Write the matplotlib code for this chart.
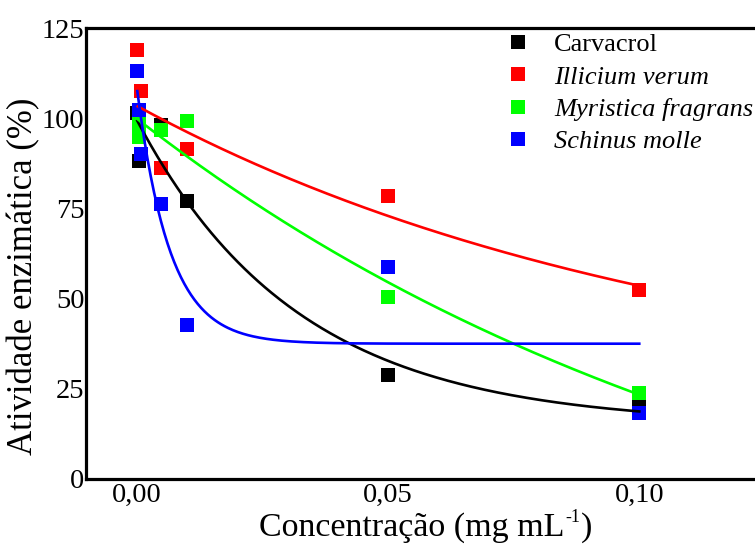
import numpy as np
import matplotlib
matplotlib.use("Agg")
import matplotlib.pyplot as plt

# dados (concentracao em mg/mL, atividade em %)
nomes = ["Carvacrol", "Illicium verum", "Myristica fragrans", "Schinus molle"]
cores = ["#000000", "#ff0000", "#00ff00", "#0000ff"]

x_carvacrol = [0.0001, 0.0005, 0.005, 0.01, 0.05, 0.1]
y_carvacrol = [101.5, 88.1, 98.2, 77.0, 28.8, 20.8]

x_illicium = [0.0001, 0.001, 0.005, 0.01, 0.05, 0.1]
y_illicium = [118.9, 107.5, 86.2, 91.5, 78.4, 52.4]

x_myristica = [0.0005, 0.0005, 0.005, 0.01, 0.05, 0.1]
y_myristica = [98.7, 94.8, 96.7, 99.2, 50.4, 23.8]

x_schinus = [0.0001, 0.0005, 0.001, 0.005, 0.01, 0.05, 0.1]
y_schinus = [113.2, 102.3, 90.1, 76.2, 42.7, 58.8, 18.3]

# ajuste exponencial y = y0 + A*exp(-x/t)  (parametros estimados do grafico)
y0_ajuste = [15.0, 20.0, -45.0, 37.5]
A_ajuste = [84.8, 83.5, 145.0, 72.2]
t_ajuste = [0.032, 0.1097, 0.133, 0.0065]
x_ini_ajuste = [0.0002, 0.0003, 0.0003, 0.0002]
x_fim_ajuste = 0.1

yticks = [0, 25, 50, 75, 100, 125]
xticks = [0.0, 0.05, 0.10]
xtick_labels = ["0,00", "0,05", "0,10"]

plt.rcParams["font.family"] = ["Liberation Serif", "DejaVu Serif"]

fig = plt.figure(figsize=(7.55, 5.44), dpi=100)
W, H = 755, 544
ax = fig.add_axes([86 / W, (H - 479) / H, (765 - 86) / W, (479 - 28) / H])

series = [(x_carvacrol, y_carvacrol), (x_illicium, y_illicium),
          (x_myristica, y_myristica), (x_schinus, y_schinus)]

for (xs, ys), cor, nome in zip(series, cores, nomes):
    ax.plot(xs, ys, "s", color=cor, markersize=10, markeredgewidth=0,
            label=nome, zorder=2)

for i, cor in enumerate(cores):
    xx = np.linspace(x_ini_ajuste[i], x_fim_ajuste, 300)
    yy = y0_ajuste[i] + A_ajuste[i] * np.exp(-xx / t_ajuste[i])
    ax.plot(xx, yy, "-", color=cor, linewidth=1.9, zorder=3)

ax.set_xlim(-0.01, 0.125)
ax.set_ylim(0, 125)
ax.set_xticks(xticks)
ax.set_xticklabels(xtick_labels)
ax.set_yticks(yticks)
ax.tick_params(length=0, labelsize=20.5, pad=3)
ax.tick_params(axis="y", pad=1)

for lado in ["left", "bottom", "top"]:
    ax.spines[lado].set_linewidth(2.3)
ax.spines["right"].set_visible(False)

# rotulo do eixo x com expoente pequeno (hifen, como no original)
fig.text(425 / W, 1 - 528 / H, "Concentração (mg mL", fontsize=24.5,
         ha="right", va="center")
fig.text(425 / W, 1 - 528 / H, "  )", fontsize=24.5, ha="left", va="center")
rx = fig.text(425 / W, 1 - 528 / H, "-1", fontsize=13, ha="left",
              va="bottom")
# centraliza o conjunto
fig.canvas.draw()
partes = [t for t in fig.texts]
esq = partes[0].get_window_extent().x0
dir_ = partes[1].get_window_extent().x1
deslocamento = ((86 + 765) / 2 - (esq + dir_) / 2) / W
for t in partes:
    x, y = t.get_position()
    t.set_position((x + deslocamento, y))
x, y = rx.get_position()
rx.set_position((x + 1 / W, y + 2 / H))

ax.set_ylabel("Atividade enzimática (%)", fontsize=25)
ax.yaxis.set_label_coords(-0.068, 0.45)

leg = ax.legend(loc="upper left", bbox_to_anchor=(505 / W, 1 - 33 / H),
                bbox_transform=fig.transFigure, frameon=False, fontsize=19,
                handlelength=1.0, handletextpad=0.85, labelspacing=0.33,
                borderpad=0, borderaxespad=0)
for txt in leg.get_texts()[1:]:
    txt.set_style("italic")

fig.savefig("out.png", dpi=100)
